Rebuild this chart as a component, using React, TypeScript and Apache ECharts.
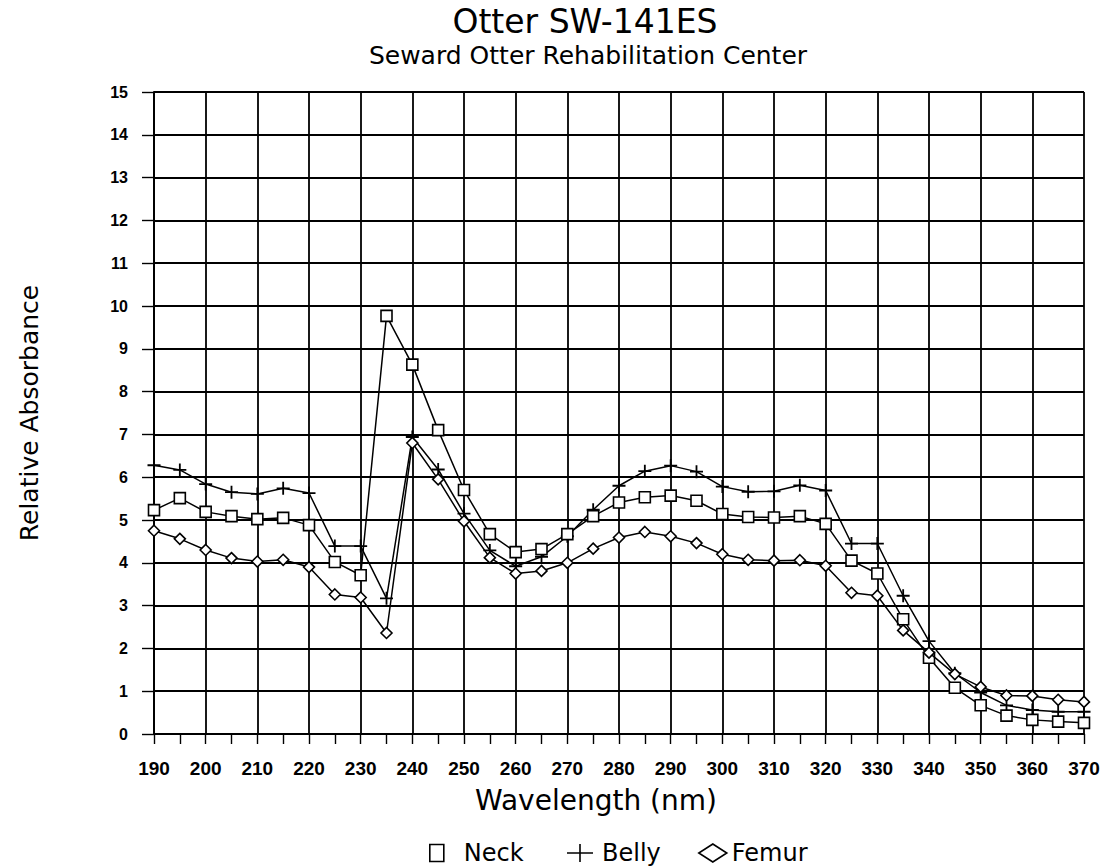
import React, { useEffect, useRef } from 'react';
import * as echarts from 'echarts';

const wavelengths = [190, 195, 200, 205, 210, 215, 220, 225, 230, 235, 240, 245, 250, 255, 260, 265, 270, 275, 280, 285, 290, 295, 300, 305, 310, 315, 320, 325, 330, 335, 340, 345, 350, 355, 360, 365, 370];

const neck = [5.23, 5.51, 5.19, 5.09, 5.02, 5.05, 4.88, 4.02, 3.71, 9.77, 8.63, 7.1, 5.7, 4.67, 4.25, 4.32, 4.67, 5.09, 5.41, 5.53, 5.57, 5.45, 5.14, 5.07, 5.06, 5.09, 4.91, 4.05, 3.75, 2.68, 1.78, 1.08, 0.67, 0.43, 0.33, 0.29, 0.26];

const belly = [6.28, 6.17, 5.84, 5.65, 5.61, 5.74, 5.63, 4.39, 4.39, 3.17, 6.94, 6.18, 5.15, 4.29, 3.92, 4.14, 4.62, 5.24, 5.8, 6.14, 6.27, 6.13, 5.78, 5.66, 5.67, 5.81, 5.69, 4.45, 4.45, 3.23, 2.17, 1.42, 0.97, 0.67, 0.56, 0.52, 0.52];

const femur = [4.75, 4.56, 4.3, 4.11, 4.03, 4.07, 3.9, 3.26, 3.19, 2.36, 6.8, 5.95, 4.97, 4.12, 3.75, 3.81, 4.0, 4.33, 4.59, 4.72, 4.62, 4.46, 4.2, 4.07, 4.05, 4.06, 3.93, 3.3, 3.23, 2.42, 1.9, 1.4, 1.1, 0.9, 0.89, 0.8, 0.75];

const seriesNames = ['Neck', 'Belly', 'Femur'];
const titleText = 'Otter SW-141ES';
const subtitleText = 'Seward Otter Rehabilitation Center';
const xName = 'Wavelength (nm)';
const yName = 'Relative Absorbance';

const PLUS = 'path://M4.3,0H5.7V4.3H10V5.7H5.7V10H4.3V5.7H0V4.3H4.3Z';
const PLUS_LEGEND = 'path://M12.2,0H13.8V8.2H26V9.8H13.8V18H12.2V9.8H0V8.2H12.2Z';

const SANS = '"DejaVu Sans", "Liberation Sans", Arial, sans-serif';
const TICK = '"Liberation Sans", Arial, sans-serif';

function pairs(vals: number[]) {
  return wavelengths.map((w, i) => [w, vals[i]]);
}

export default function App() {
  const ref = useRef<HTMLDivElement>(null);
  useEffect(() => {
    document.body.style.margin = '0';
    if (!ref.current) return;
    const chart = echarts.init(ref.current, null, { renderer: 'svg' });
    const legendBase = {
      orient: 'horizontal',
      padding: 0,
      selectedMode: false,
      top: 841,
    };
    chart.setOption({
      animation: false,
      backgroundColor: '#fff',
      title: [
        {
          text: titleText,
          left: 585,
          top: 5,
          padding: 0,
          textAlign: 'center',
          textStyle: { fontFamily: SANS, fontSize: 33, lineHeight: 33, fontWeight: 'normal', color: '#000' },
        },
        {
          text: subtitleText,
          left: 588,
          top: 43,
          padding: 0,
          textAlign: 'center',
          textStyle: { fontFamily: SANS, fontSize: 25, lineHeight: 25, fontWeight: 'normal', color: '#000' },
        },
      ],
      legend: [
        {
          ...legendBase,
          left: 429,
          itemWidth: 14,
          itemHeight: 17,
          data: [{ name: seriesNames[0], icon: 'rect' }],
          itemStyle: { color: '#fff', borderColor: '#000', borderWidth: 1.6 },
          textStyle: { fontFamily: SANS, fontSize: 24, color: '#000', padding: [0, 0, 0, 15] },
        },
        {
          ...legendBase,
          left: 567,
          itemWidth: 26,
          itemHeight: 18,
          data: [{ name: seriesNames[1], icon: PLUS_LEGEND }],
          itemStyle: { color: '#000', borderWidth: 0 },
          textStyle: { fontFamily: SANS, fontSize: 24, color: '#000', padding: [0, 0, 0, 4] },
        },
        {
          ...legendBase,
          left: 698,
          itemWidth: 28,
          itemHeight: 18,
          data: [{ name: seriesNames[2], icon: 'diamond' }],
          itemStyle: { color: '#fff', borderColor: '#000', borderWidth: 1.6 },
          textStyle: { fontFamily: SANS, fontSize: 24, color: '#000' },
        },
      ],
      grid: { left: 154, right: 21, top: 92, bottom: 133 },
      xAxis: {
        type: 'value',
        min: 190,
        max: 370,
        interval: 10,
        name: xName,
        nameLocation: 'middle',
        nameGap: 52,
        nameTextStyle: { fontFamily: SANS, fontSize: 28, color: '#000', verticalAlign: 'top', padding: [0, 46, 0, 0] },
        axisLine: { show: true, lineStyle: { color: '#000', width: 2 } },
        axisTick: { show: true, length: 10, lineStyle: { color: '#000', width: 1.4 } },
        minorTick: { show: true, splitNumber: 2, length: 10, lineStyle: { color: '#000', width: 1.4 } },
        axisLabel: { margin: 25, fontFamily: TICK, fontWeight: 'bold', fontSize: 19, color: '#000' },
        splitLine: { show: true, lineStyle: { color: '#000', width: 1.8 } },
      },
      yAxis: {
        type: 'value',
        min: 0,
        max: 15,
        interval: 1,
        name: yName,
        nameLocation: 'middle',
        nameGap: 112,
        nameTextStyle: { fontFamily: SANS, fontSize: 25, color: '#000' },
        axisLine: { show: true, lineStyle: { color: '#000', width: 2 } },
        axisTick: { show: true, length: 12, lineStyle: { color: '#000', width: 1.4 } },
        axisLabel: { margin: 26, fontFamily: TICK, fontWeight: 'bold', fontSize: 16, color: '#000' },
        splitLine: { show: true, lineStyle: { color: '#000', width: 1.8 } },
      },
      series: [
        {
          name: seriesNames[0],
          type: 'line',
          data: pairs(neck),
          symbol: 'rect',
          symbolSize: 11,
          itemStyle: { color: '#fff', borderColor: '#000', borderWidth: 1.6 },
          lineStyle: { color: '#000', width: 1.5 },
          z: 4,
        },
        {
          name: seriesNames[1],
          type: 'line',
          data: pairs(belly),
          symbol: PLUS,
          symbolSize: 13,
          itemStyle: { color: '#000', borderWidth: 0 },
          lineStyle: { color: '#000', width: 1.5 },
          z: 3,
        },
        {
          name: seriesNames[2],
          type: 'line',
          data: pairs(femur),
          symbol: 'diamond',
          symbolSize: 11,
          itemStyle: { color: '#fff', borderColor: '#000', borderWidth: 1.6 },
          lineStyle: { color: '#000', width: 1.5 },
          z: 5,
        },
      ],
    });
    return () => chart.dispose();
  }, []);
  return <div ref={ref} style={{ width: 1105, height: 867 }} />;
}
